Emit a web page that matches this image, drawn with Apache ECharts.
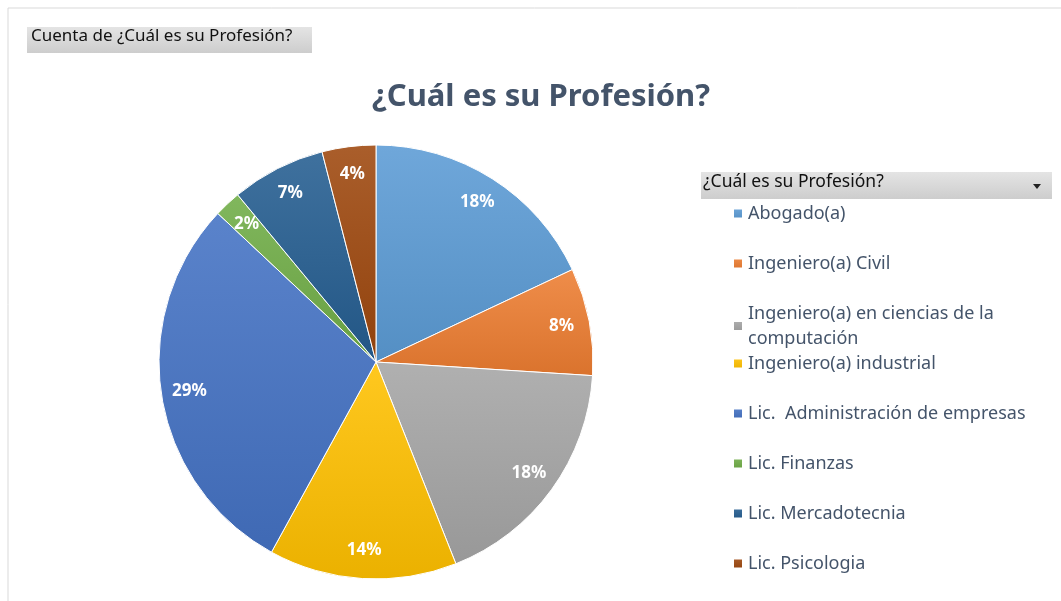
<!DOCTYPE html>
<html>
<head>
<meta charset="utf-8">
<script src="https://cdn.jsdelivr.net/npm/echarts@6/dist/echarts.min.js"></script>
<style>
  html, body { margin: 0; padding: 0; background: #fff; }
  #chart { width: 1061px; height: 601px; }
</style>
</head>
<body>
<div id="chart"></div>
<script>
// data (percent of answers)
var categories = [
  'Abogado(a)',
  'Ingeniero(a) Civil',
  'Ingeniero(a) en ciencias de la computación',
  'Ingeniero(a) industrial',
  'Lic.  Administración de empresas',
  'Lic. Finanzas',
  'Lic. Mercadotecnia',
  'Lic. Psicologia'
]
var values = [18, 8, 18, 14, 29, 2, 7, 4]
var colors = ['#5B9BD5', '#ED7D31', '#A5A5A5', '#FFC000', '#4472C4', '#70AD47', '#255E91', '#9E480E']

function shade(hex, amt) {
  var n = parseInt(hex.slice(1), 16)
  var c = [(n >> 16) & 255, (n >> 8) & 255, n & 255].map(function (v) {
    var r = amt > 0 ? v + (255 - v) * amt : v * (1 + amt)
    return Math.round(Math.max(0, Math.min(255, r)))
  })
  return 'rgb(' + c.join(',') + ')'
}

var pieData = categories.map(function (name, i) {
  return {
    name: name,
    value: values[i],
    itemStyle: {
      color: new echarts.graphic.LinearGradient(0, 0, 0, 1, [
        { offset: 0, color: shade(colors[i], 0.12) },
        { offset: 1, color: shade(colors[i], -0.08) }
      ])
    }
  }
})

var center = [376, 362]
var textColor = '#44546A'
var font = 'Noto Sans'

var legendBase = {
  orient: 'vertical',
  left: 727,
  itemWidth: 10,
  itemHeight: 10,
  itemGap: 25,
  icon: 'rect',
  selectedMode: false,
  textStyle: { color: textColor, fontSize: 18, fontFamily: font, lineHeight: 25 }
}

var chart = echarts.init(document.getElementById('chart'))
chart.setOption({
  animation: false,
  title: {
    text: '¿Cuál es su Profesión?',
    left: 536,
    textAlign: 'center',
    top: 77,
    textStyle: { color: textColor, fontSize: 31, fontWeight: 'bold', fontFamily: font }
  },
  legend: [
    Object.assign({}, legendBase, {
      top: 196,
      data: categories.slice(0, 3),
      formatter: function (name) {
        return name === categories[2] ? 'Ingeniero(a) en ciencias de la\ncomputación' : name
      }
    }),
    Object.assign({}, legendBase, {
      top: 346,
      data: categories.slice(3)
    })
  ],
  graphic: [
    { type: 'polyline', silent: true, shape: { points: [[8, 601], [8, 8], [1061, 8]] },
      style: { stroke: '#d9d9d9', lineWidth: 1, fill: null } },
    { type: 'rect', silent: true, shape: { x: 27, y: 27, width: 285, height: 26 },
      style: { fill: new echarts.graphic.LinearGradient(0, 0, 0, 1, [
        { offset: 0, color: '#e4e4e4' }, { offset: 1, color: '#cdcdcd' }]) } },
    { type: 'text', silent: true, left: 31, top: 28,
      style: { text: 'Cuenta de ¿Cuál es su Profesión?', fill: '#111', font: '17px "Noto Sans"' } },
    { type: 'rect', silent: true, shape: { x: 701, y: 172, width: 351, height: 27 },
      style: { fill: new echarts.graphic.LinearGradient(0, 0, 0, 1, [
        { offset: 0, color: '#e4e4e4' }, { offset: 1, color: '#cdcdcd' }]) } },
    { type: 'text', silent: true, left: 703, top: 173,
      style: { text: '¿Cuál es su Profesión?', fill: '#111', font: '17.5px "Noto Sans"' } },
    { type: 'polygon', silent: true, shape: { points: [[1033, 184], [1041, 184], [1037, 189]] },
      style: { fill: '#222' } }
  ],
  series: [{
    type: 'pie',
    center: center,
    radius: [0, 217],
    startAngle: 90,
    silent: true,
    data: pieData,
    itemStyle: { borderColor: '#fff', borderWidth: 1 },
    label: { show: false },
    labelLine: { show: false }
  }, {
    // transparent ring only to place the percent labels near the rim
    type: 'pie',
    center: center,
    radius: [155, 217],
    startAngle: 90,
    silent: true,
    data: categories.map(function (name, i) { return { name: name, value: values[i] } }),
    itemStyle: { color: 'rgba(0,0,0,0)' },
    label: {
      show: true,
      position: 'inside',
      formatter: function (p) { return Math.round(p.percent) + '%' },
      color: '#fff',
      fontSize: 17,
      fontWeight: 'bold',
      fontFamily: font
    },
    labelLine: { show: false }
  }]
})
</script>
</body>
</html>
